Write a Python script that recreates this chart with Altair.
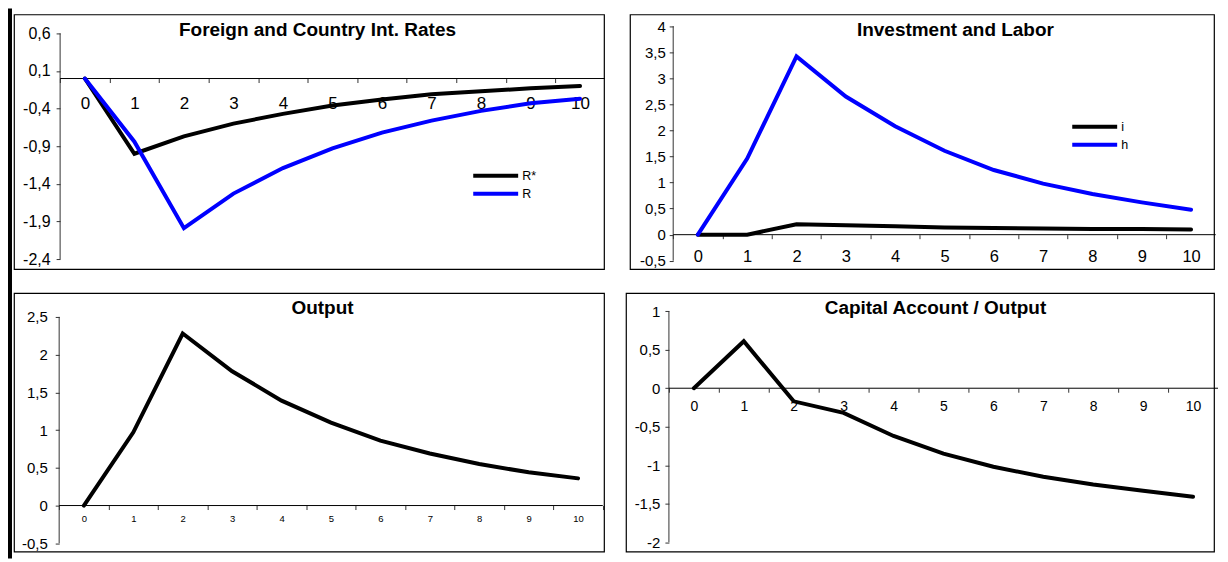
import altair as alt
import pandas as pd

# ---------------- data ----------------
periods = list(range(11))
foreign_rate = [0, -1.00, -0.77, -0.60, -0.47, -0.36, -0.28, -0.21, -0.17, -0.13, -0.10]
country_rate = [0, -0.84, -1.99, -1.53, -1.19, -0.93, -0.72, -0.56, -0.43, -0.33, -0.27]
investment = [0, 0, 0.20, 0.18, 0.16, 0.14, 0.13, 0.12, 0.11, 0.11, 0.10]
labor = [0, 1.46, 3.42, 2.65, 2.08, 1.61, 1.24, 0.98, 0.78, 0.62, 0.48]
output = [0, 0.97, 2.28, 1.78, 1.39, 1.10, 0.86, 0.69, 0.55, 0.44, 0.36]
capital_account = [0, 0.61, -0.17, -0.32, -0.62, -0.85, -1.02, -1.15, -1.25, -1.33, -1.41]

titles = ["Foreign and Country Int. Rates", "Investment and Labor",
          "Output", "Capital Account / Output"]
rate_names = ["R*", "R"]
inv_names = ["i", "h"]
series_colors = ["#000000", "#0000FF"]

p1_yticks = [0.6, 0.1, -0.4, -0.9, -1.4, -1.9, -2.4]
p2_yticks = [4, 3.5, 3, 2.5, 2, 1.5, 1, 0.5, 0, -0.5]
p3_yticks = [2.5, 2, 1.5, 1, 0.5, 0, -0.5]
p4_yticks = [1, 0.5, 0, -0.5, -1, -1.5, -2]

FONT = "Liberation Sans"
x_lo = periods[0] - 0.5
x_hi = periods[-1] + 0.5
x_tick_values = [x_lo + k for k in range(len(periods) + 1)]


def long_df(names, arrays):
    rows = []
    for name, arr in zip(names, arrays):
        for p, v in zip(periods, arr):
            rows.append({"period": p, "value": v, "series": name})
    return pd.DataFrame(rows)


def panel(title, df, yticks, xdom, ydom, width, height, step,
          yaxis_off, xaxis_off, xlab_size, xlab_pad, ylab_size, ylab_pad,
          title_x, title_y, legend=None):
    xscale = alt.Scale(domain=xdom, nice=False, zero=False)
    yscale = alt.Scale(domain=ydom, nice=False, zero=False)
    xaxis = alt.Axis(values=x_tick_values, orient="bottom", offset=xaxis_off,
                     domain=False, grid=False, ticks=True, tickSize=4,
                     tickColor="#333333", tickWidth=1,
                     labelExpr=f"datum.value > {periods[-1]} ? '' : toString(datum.value + 0.5)",
                     labelOffset=step / 2, labelFont=FONT, labelFontSize=xlab_size,
                     labelColor="#000000", labelBaseline="middle", labelAlign="center",
                     labelPadding=xlab_pad, labelFlush=False, labelOverlap=False,
                     title="")
    yaxis = alt.Axis(values=yticks, orient="left", offset=yaxis_off,
                     domain=False, grid=False, ticks=True, tickSize=4,
                     tickColor="#333333", tickWidth=1,
                     labelExpr="replace(toString(datum.value), '.', ',')",
                     labelFont=FONT, labelFontSize=ylab_size, labelColor="#000000",
                     labelBaseline="middle", labelPadding=ylab_pad,
                     labelFlush=False, labelOverlap=False, title="")

    def X(field):
        return alt.X(field, type="quantitative", scale=xscale, axis=xaxis)

    def Y(field):
        return alt.Y(field, type="quantitative", scale=yscale, axis=yaxis)

    vline = pd.DataFrame({"x": [x_lo], "y": [max(yticks)], "y2": [min(yticks)]})
    hline = pd.DataFrame({"x": [x_lo], "x2": [x_hi], "y": [0.0]})

    v_rule = alt.Chart(vline).mark_rule(color="#333333", strokeWidth=1).encode(
        x=X("x"), y=Y("y"), y2="y2")
    h_rule = alt.Chart(hline).mark_rule(color="#000000", strokeWidth=1).encode(
        x=X("x"), x2="x2", y=Y("y"))

    if legend is None:
        color = alt.value("#000000")
    else:
        names, lx, ly = legend
        color = alt.Color("series:N",
                          scale=alt.Scale(domain=names, range=series_colors),
                          sort=names,
                          legend=alt.Legend(orient="none", legendX=lx, legendY=ly,
                                            title="", symbolType="stroke",
                                            symbolStrokeWidth=4, symbolSize=2025,
                                            clipHeight=17,
                                            labelFont=FONT, labelFontSize=12.5,
                                            labelColor="#000000", labelOffset=2,
                                            padding=0, rowPadding=1,
                                            direction="vertical"))
    lines = alt.Chart(df).mark_line(strokeWidth=4, strokeCap="round").encode(
        x=X("period"), y=Y("value"), color=color, detail="series:N",
        order="period:Q")

    head = alt.Chart(pd.DataFrame({"t": [title]})).mark_text(
        font=FONT, fontSize=19, fontWeight="bold", color="#000000",
        align="center", baseline="middle").encode(
        x=alt.value(title_x), y=alt.value(title_y), text="t:N")

    return alt.layer(v_rule, h_rule, lines, head).properties(
        width=width, height=height,
        view=alt.ViewBackground(stroke="#000000", strokeWidth=1.2, fill="#FFFFFF"))


p1 = panel(titles[0], long_df(rate_names, [foreign_rate, country_rate]), p1_yticks,
           xdom=[-1.4315, 10.484], ydom=[-2.533, 0.852], width=591, height=255,
           step=49.6, yaxis_off=-46.2, xaxis_off=-190.8, xlab_size=17, xlab_pad=21,
           ylab_size=16, ylab_pad=6, title_x=304, title_y=15.3,
           legend=(rate_names, 458, 153))
p2 = panel(titles[1], long_df(inv_names, [investment, labor]), p2_yticks,
           xdom=[-1.3765, 10.4656], ydom=[-0.6588, 4.2245], width=585, height=255,
           step=49.4, yaxis_off=-43.3, xaxis_off=-34.4, xlab_size=16.5, xlab_pad=18,
           ylab_size=15, ylab_pad=4, title_x=326, title_y=15.3,
           legend=(inv_names, 441, 104))
p3 = panel(titles[2], long_df(["Output"], [output]), p3_yticks,
           xdom=[-1.414, 10.525], ydom=[-0.610, 2.817], width=591, height=259,
           step=49.5, yaxis_off=-45.3, xaxis_off=-46.1, xlab_size=9.5, xlab_pad=9,
           ylab_size=15, ylab_pad=8, title_x=309, title_y=15)
p4 = panel(titles[3], long_df(["CA/Y"], [capital_account]), p4_yticks,
           xdom=[-1.36, 10.42], ydom=[-2.121, 1.2369], width=589, height=259,
           step=50, yaxis_off=-43, xaxis_off=-163.6, xlab_size=14, xlab_pad=14.6,
           ylab_size=15, ylab_pad=5, title_x=310, title_y=15)


def indep(c):
    return c.resolve_scale(x="independent", y="independent", color="independent") \
            .resolve_axis(x="independent", y="independent") \
            .resolve_legend(color="independent")


row1 = indep(alt.hconcat(p1, p2, spacing=26, bounds="flush"))
row2 = indep(alt.hconcat(p3, p4, spacing=22, bounds="flush"))
grid = indep(alt.vconcat(row1, row2, spacing=22))

TOTAL_H = 255 + 22 + 259
bar = alt.Chart(pd.DataFrame({"v": [0]})).mark_rect(color="#000000").encode(
    x=alt.value(0), x2=alt.value(4), y=alt.value(-6), y2=alt.value(TOTAL_H + 9)
).properties(width=4, height=TOTAL_H, view=alt.ViewBackground(strokeWidth=0))

chart = indep(alt.hconcat(bar, grid, spacing=2, bounds="flush")).properties(
    padding=0, background="#FFFFFF")

chart.save("out.html", embed_options={"renderer": "svg", "actions": False})
